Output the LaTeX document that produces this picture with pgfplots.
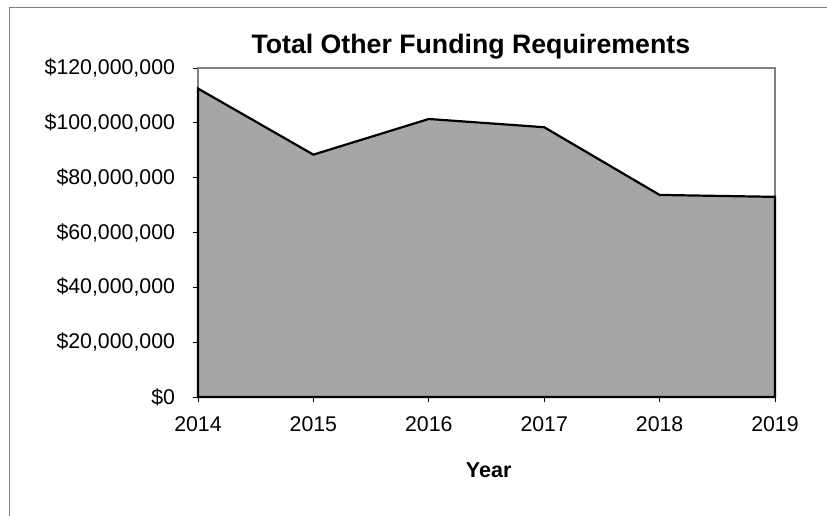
\documentclass[border=0pt]{standalone}
\usepackage{pgfplots}
\pgfplotsset{compat=1.18}
\usepackage{fontspec}
\setmainfont{Liberation Sans}
\definecolor{areagray}{RGB}{166,166,166}
\definecolor{framegray}{RGB}{128,128,128}
\begin{document}
\begin{tikzpicture}
\path[use as bounding box] (0,0) rectangle (827pt,516pt);
\draw[framegray, line width=1.5pt] (9.5pt,0) -- (9.5pt,508.7pt) -- (827pt,508.7pt);
\begin{axis}[
  at={(198pt,119pt)}, anchor=south west,
  width=577pt, height=329pt, scale only axis,
  xmin=2014, xmax=2019, ymin=0, ymax=120000000,
  xtick={2014,2015,2016,2017,2018,2019},
  xticklabels={2014,2015,2016,2017,2018,2019},
  ytick={0,20000000,40000000,60000000,80000000,100000000,120000000},
  yticklabels={{\$0},{\$20,000,000},{\$40,000,000},{\$60,000,000},{\$80,000,000},{\$100,000,000},{\$120,000,000}},
  scaled y ticks=false,
  xtick pos=bottom, ytick pos=left,
  tick align=center, major tick length=11pt,
  tick style={black, line width=0.8pt},
  axis line style={framegray, line width=1.5pt},
  ticklabel style={font=\fontsize{21.3pt}{25pt}\selectfont},
  yticklabel style={xshift=-14pt},
  xticklabel style={yshift=-11pt},
  title={Total Other Funding Requirements},
  title style={font=\bfseries\fontsize{26.7pt}{31pt}\selectfont, at={(0.4728,1)}, anchor=base, yshift=8pt},
  xlabel={Year},
  xlabel style={font=\bfseries\fontsize{21.5pt}{25pt}\selectfont, at={(0.5038,0)}, anchor=base, yshift=-80.7pt},
  clip=false,
]
\addplot[fill=areagray, draw=black, line width=2.2pt, line join=miter] coordinates {
  (2014,112500000) (2015,88400000) (2016,101400000) (2017,98400000) (2018,73700000) (2019,73000000)
} \closedcycle;
\end{axis}
\end{tikzpicture}
\end{document}
